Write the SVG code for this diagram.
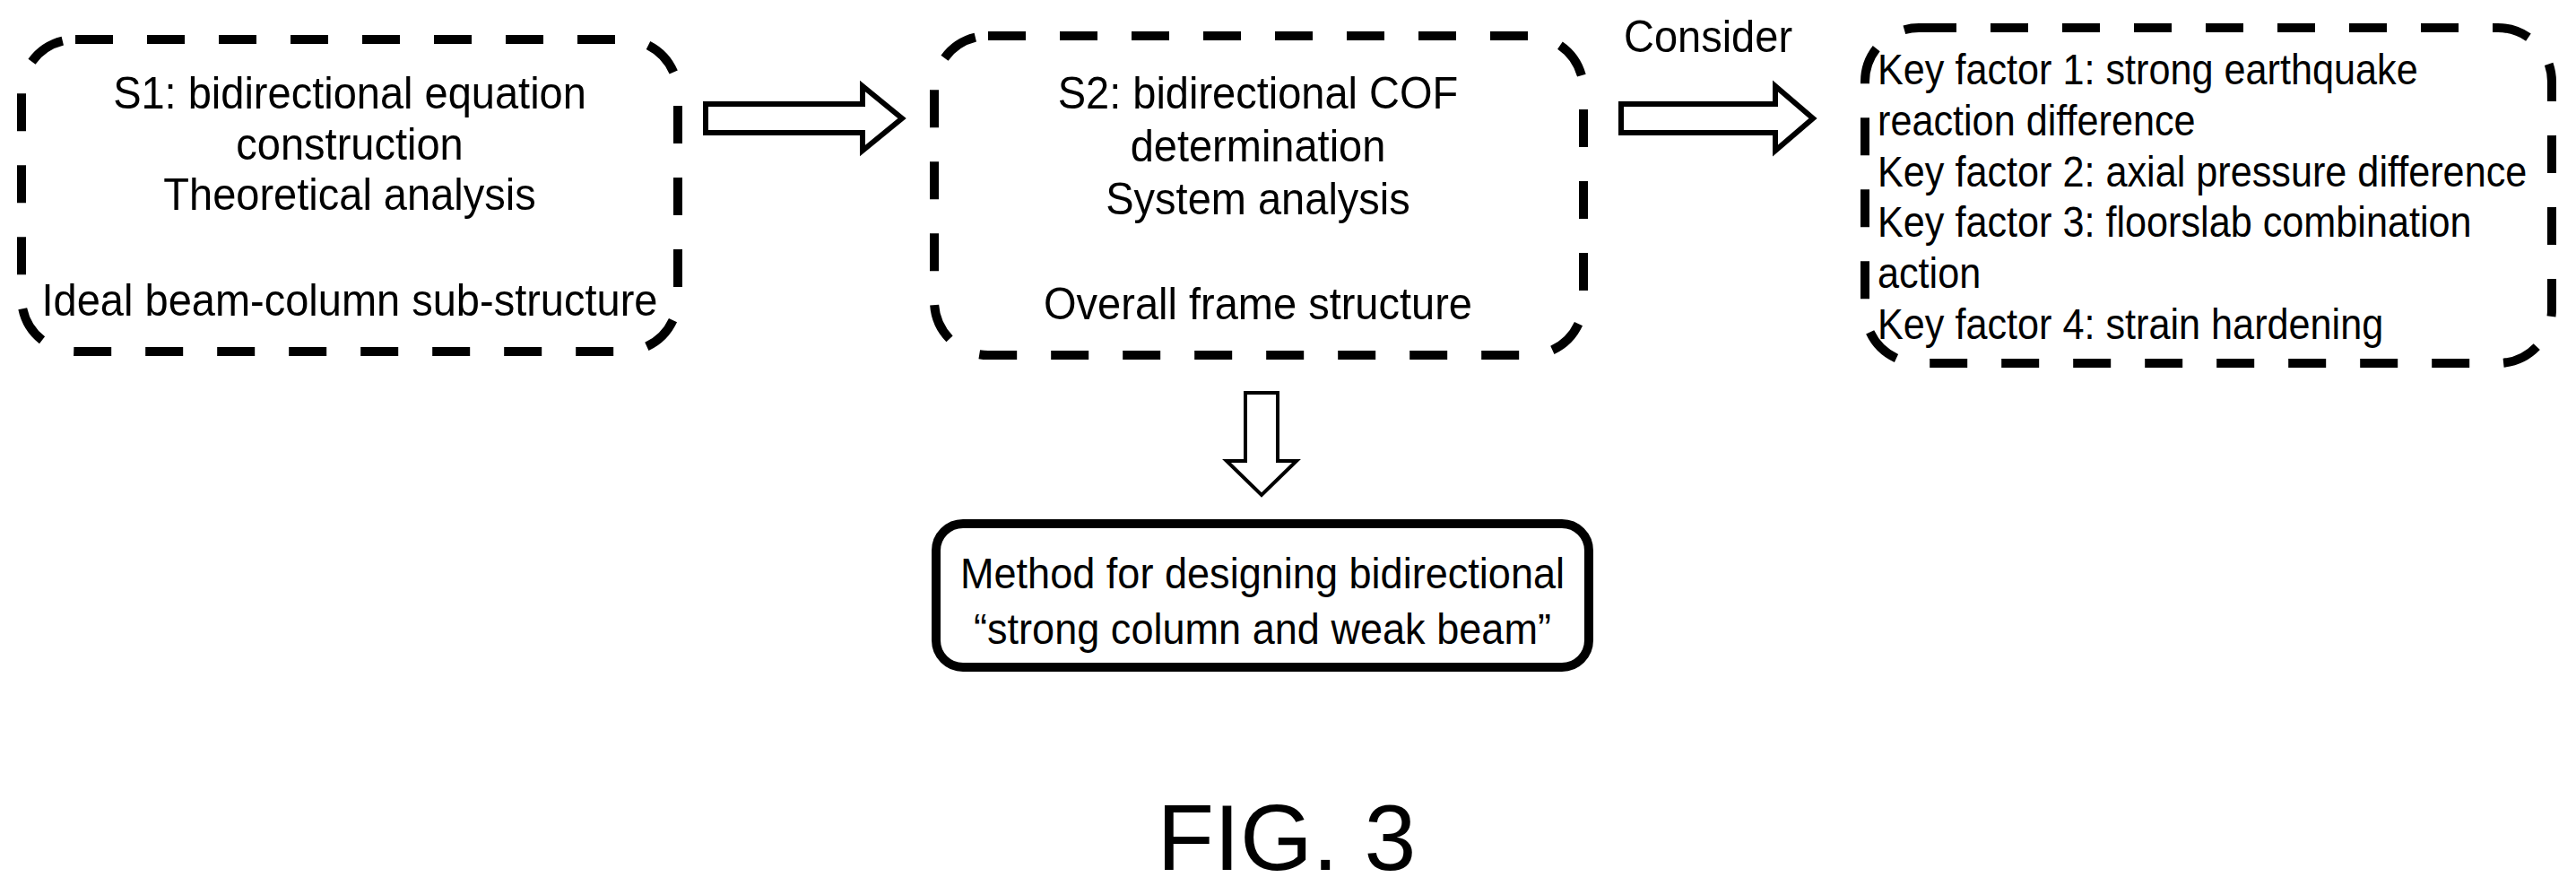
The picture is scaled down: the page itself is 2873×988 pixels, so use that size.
<svg xmlns="http://www.w3.org/2000/svg" width="2873" height="988" viewBox="0 0 2873 988">
<style>
text{font-family:"Liberation Sans",Arial,sans-serif;fill:#000}
.t{font-size:50px}
.f{font-size:48px}
.m{font-size:49px}
.c{text-anchor:middle}
.dash{fill:none;stroke:#000;stroke-width:10;stroke-dasharray:42 38}
.arr{fill:#fff;stroke:#000;stroke-width:6;stroke-linejoin:miter}
</style>
<rect width="2873" height="988" fill="#fff"/>
<g id="s1">
<rect class="dash" x="24" y="44" width="732" height="348" rx="60"/>
<g transform="translate(390,0) scale(0.94,1)">
<text class="t c" x="0" y="121">S1: bidirectional equation</text>
<text class="t c" x="0" y="178">construction</text>
<text class="t c" x="0" y="234">Theoretical analysis</text>
<text class="t c" x="0" y="352">Ideal beam-column sub-structure</text>
</g>
</g>
<g id="s2">
<rect class="dash" x="1042" y="40" width="724" height="356" rx="60"/>
<g transform="translate(1403,0) scale(0.94,1)">
<text class="t c" x="0" y="121">S2: bidirectional COF</text>
<text class="t c" x="0" y="180">determination</text>
<text class="t c" x="0" y="239">System analysis</text>
<text class="t c" x="0" y="356">Overall frame structure</text>
</g>
</g>
<g id="factors">
<rect class="dash" x="2080" y="31" width="766" height="374" rx="60"/>
<g transform="translate(2094,0) scale(0.9,1)">
<text class="f" x="0" y="94">Key factor 1: strong earthquake</text>
<text class="f" x="0" y="151">reaction difference</text>
<text class="f" x="0" y="208">Key factor 2: axial pressure difference</text>
<text class="f" x="0" y="264">Key factor 3: floorslab combination</text>
<text class="f" x="0" y="321">action</text>
<text class="f" x="0" y="378">Key factor 4: strain hardening</text>
</g>
</g>
<g id="method">
<rect x="1044" y="584" width="728" height="160" rx="30" fill="#fff" stroke="#000" stroke-width="10"/>
<g transform="translate(1408,0) scale(0.92,1)">
<text class="m c" x="0" y="656">Method for designing bidirectional</text>
<text class="m c" x="0" y="718">“strong column and weak beam”</text>
</g>
</g>
<g id="connectors">
<polygon class="arr" points="787,116 962,116 962,96 1006,132 962,168 962,148 787,148"/>
<polygon class="arr" points="1808,116 1980,116 1980,96 2022,132 1980,168 1980,148 1808,148"/>
<g transform="translate(1905,0) scale(0.94,1)"><text class="t c" x="0" y="58">Consider</text></g>
<polygon class="arr" style="stroke-width:4" points="1389,438 1425,438 1425,514 1446,514 1407,552 1368,514 1389,514"/>
</g>
<text class="c" x="1435" y="970" style="font-size:104px">FIG. 3</text>
</svg>
